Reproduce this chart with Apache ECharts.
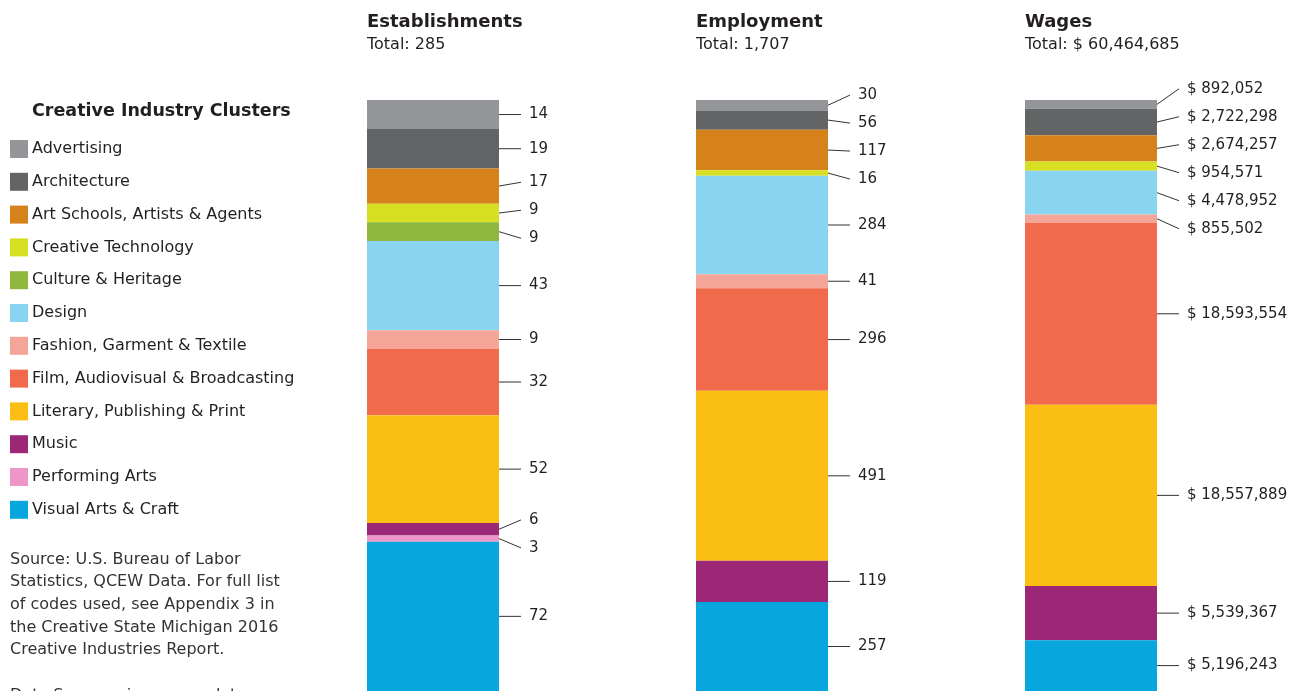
<!DOCTYPE html>
<html><head><meta charset="utf-8">
<script src="https://cdn.jsdelivr.net/npm/echarts@6/dist/echarts.min.js"></script>
<style>
html,body{margin:0;padding:0;background:#fff;overflow:hidden;width:1289px;height:691px}
.c{position:absolute;top:0;height:691px}
#c1{left:0;width:640px}
#c2{left:640px;width:330px}
#c3{left:970px;width:319px}
</style></head>
<body>
<div id="c1" class="c"></div><div id="c2" class="c"></div><div id="c3" class="c"></div>
<script>
const clusters = ['Advertising','Architecture','Art Schools, Artists & Agents','Creative Technology','Culture & Heritage','Design','Fashion, Garment & Textile','Film, Audiovisual & Broadcasting','Literary, Publishing & Print','Music','Performing Arts','Visual Arts & Craft'];
const colors = ['#939598','#636466','#D6821B','#D7DF23','#8DB83D','#89D4F1','#F4A597','#F26A4C','#FBBF13','#9C2777','#EC97C5','#07A6DE'];
const establishments = [14,19,17,9,9,43,9,32,52,6,3,72];
const employment = [30,56,117,16,null,284,41,296,491,119,null,257];
const wages = [892052,2722298,2674257,954571,null,4478952,855502,18593554,18557889,5539367,null,5196243];
const columnTitles = ['Establishments','Employment','Wages'];
const sourceLines = ['Source: U.S. Bureau of Labor','Statistics, QCEW Data. For full list','of codes used, see Appendix 3 in','the Creative State Michigan 2016','Creative Industries Report.','','Data Suppression: some data'];

const FONT = '"DejaVu Sans", "Noto Sans", sans-serif';
const TXT = '#231F20';
const fmt = echarts.format.addCommas;
const LABEL_GAP = 28;   // minimum vertical distance between labels (px)

function sum(a){return a.reduce((s,v)=>s+(v||0),0);}

// spread label centres so that they don't overlap (cluster-merge, balanced around the wanted position)
function spread(wanted, gap){
  let groups = wanted.map((w,i)=>({idx:[i], sum:w, pos:w}));
  let changed = true;
  while (changed){
    changed = false;
    for (let k=0;k<groups.length-1;k++){
      const a = groups[k], b = groups[k+1];
      const aEnd = a.pos + (a.idx.length-1)*gap;
      if (b.pos - aEnd < gap){
        const idx = a.idx.concat(b.idx), s = a.sum + b.sum;
        const n = idx.length;
        groups.splice(k,2,{idx, sum:s, pos: s/n - (n-1)*gap/2});
        changed = true; break;
      }
    }
  }
  const out = [];
  groups.forEach(g=>g.idx.forEach((i,j)=>{out[i] = g.pos + j*gap;}));
  return out;
}

function colOption(title, values, isMoney, gridLeft){
  const total = sum(values);
  const series = [];
  const items = [];  // [category, start, end, value, clusterIndex]
  let acc = 0;
  values.forEach((v,i)=>{
    if (v == null) return;
    series.push({type:'bar', name:clusters[i], stack:'s', data:[v], barWidth:'100%',
      itemStyle:{color:colors[i]}, emphasis:{disabled:true}, animation:false, z:2});
    items.push([0, acc, acc+v, v, i]);
    acc += v;
  });
  series.push({
    type:'custom', name:'labels', data:items, encode:{x:0, y:1}, animation:false, silent:true, z:3,
    renderItem:(params, api)=>{
      const centres = items.map(it=>api.coord([0,(it[1]+it[2])/2])[1]);
      const ys = spread(centres, LABEL_GAP);
      const i = params.dataIndex;
      const it = items[i];
      const right = api.coord([0, it[1]])[0] + api.size([1,0])[0]/2;
      const ly = ys[i];
      return {type:'group', children:[
        {type:'line', shape:{x1:right, y1:centres[i], x2:right+22, y2:ly}, style:{stroke:'#333', lineWidth:1}},
        {type:'text', x:right+30, y:ly, style:{text: (isMoney ? '$ ' : '') + fmt(it[3]), fill:TXT,
          font:'15px ' + FONT, align:'left', verticalAlign:'middle'}}
      ]};
    }
  });
  return {
    animation:false,
    title:[
      {text:title, left:gridLeft, top:13, padding:0, textStyle:{fontFamily:FONT, fontSize:18, fontWeight:'bold', color:TXT}},
      {text:'Total: ' + (isMoney ? '$ ' : '') + fmt(total), left:gridLeft, top:37, padding:0, textStyle:{fontFamily:FONT, fontSize:16, fontWeight:'normal', color:TXT}}
    ],
    grid:{left:gridLeft, top:100, width:132, height:593},
    xAxis:{type:'category', data:[title], show:false},
    yAxis:{type:'value', min:0, max:total, inverse:true, show:false},
    series
  };
}

const c1 = echarts.init(document.getElementById('c1'));
const o1 = colOption(columnTitles[0], establishments, false, 367);
o1.title.push({text:'Creative Industry Clusters', left:32, top:102, padding:0, textStyle:{fontFamily:FONT, fontSize:17.5, fontWeight:'bold', color:TXT}});
o1.legend = {orient:'vertical', left:10, top:140, padding:0, itemWidth:18, itemHeight:18, itemGap:14.8, icon:'rect', selectedMode:false,
  data:clusters, textStyle:{fontFamily:FONT, fontSize:16, color:TXT, padding:[0,0,0,-1]}};
o1.graphic = [{type:'text', left:10, top:548, style:{text:sourceLines.join('\n'), font:'16px ' + FONT, lineHeight:22.7, fill:'#333'}}];
c1.setOption(o1);

const c2 = echarts.init(document.getElementById('c2'));
c2.setOption(colOption(columnTitles[1], employment, false, 56));
const c3 = echarts.init(document.getElementById('c3'));
c3.setOption(colOption(columnTitles[2], wages, true, 55));
</script>
</body></html>
